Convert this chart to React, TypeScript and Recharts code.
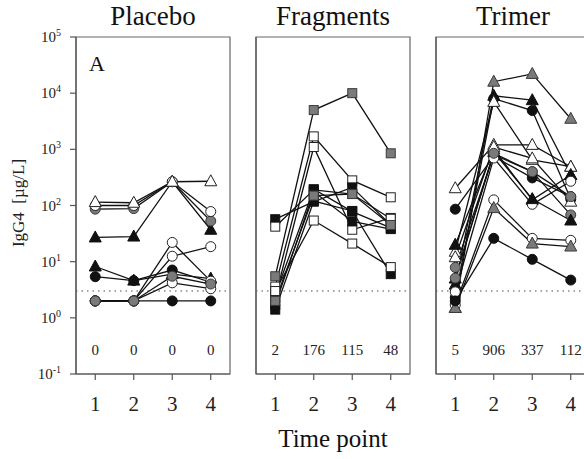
import React from 'react';
import {
  LineChart,
  Line,
  XAxis,
  YAxis,
  ReferenceLine,
  ReferenceArea,
  ReferenceDot,
  Label,
} from 'recharts';

const timePoints = [1, 2, 3, 4];
const xTicks = [1, 2, 3, 4];
const yTicks = [0.1, 1, 10, 100, 1000, 10000, 100000];
const thresholdValue = 3;
const medianLabelLevel = 0.27;
const panelTitles = ['Placebo', 'Fragments', 'Trimer'];

const placeboValues = [
  [27, 28, 265, 37],
  [86, 88, 265, 53],
  [100, 100, 265, 78],
  [115, 112, 265, 270],
  [8.2, 4.6, 6, 5.0],
  [5.4, 4.6, 7.1, 4.3],
  [2, 2, 22, 4.5],
  [2, 2, 12.5, 18.5],
  [2, 2, 4.2, 3.3],
  [2, 2, 2, 2],
  [2, 2, 5.5, 4.0],
];
const placeboShapes = ['triangle', 'circle', 'circle', 'triangle', 'triangle', 'circle', 'circle', 'circle', 'circle', 'circle', 'circle'];
const placeboFills = ['black', 'gray', 'white', 'white', 'black', 'black', 'white', 'white', 'white', 'black', 'gray'];
const placeboMedians = ['0', '0', '0', '0'];

const fragmentValues = [
  [5.5, 5000, 10000, 850],
  [3.6, 1700, 280, 140],
  [2.3, 1100, 37, 60],
  [57, 117, 210, 45],
  [42, 190, 160, 58],
  [2.6, 195, 78, 40],
  [1.7, 175, 52, 38],
  [1.4, 120, 80, 6],
  [3.0, 54, 21, 8],
  [2.0, 150, 160, 45],
];
const fragmentShapes = ['square', 'square', 'square', 'square', 'square', 'square', 'square', 'square', 'square', 'square'];
const fragmentFills = ['gray', 'white', 'white', 'black', 'white', 'black', 'black', 'black', 'white', 'gray'];
const fragmentMedians = ['2', '176', '115', '48'];

const trimerValues = [
  [1.5, 16000, 22000, 3500],
  [3.9, 9000, 7500, 350],
  [2.3, 8000, 4900, 130],
  [15, 7000, 650, 490],
  [203, 1200, 1200, 490],
  [20, 1000, 126, 350],
  [86, 750, 310, 144],
  [7.9, 800, 400, 68],
  [2.9, 700, 105, 270],
  [5, 900, 130, 54],
  [1.7, 126, 26, 24],
  [1.5, 90, 21, 18.6],
  [2.0, 26, 11, 4.7],
  [12, 1100, 690, 117],
  [5.1, 850, 400, 144],
];
const trimerShapes = ['triangle', 'triangle', 'circle', 'triangle', 'triangle', 'triangle', 'circle', 'circle', 'circle', 'triangle', 'circle', 'triangle', 'circle', 'triangle', 'circle'];
const trimerFills = ['gray', 'black', 'black', 'white', 'white', 'black', 'black', 'gray', 'white', 'black', 'white', 'gray', 'black', 'white', 'gray'];
const trimerMedians = ['5', '906', '337', '112'];

const FONT = "'Liberation Serif', 'Times New Roman', serif";
const FILLS: Record<string, string> = { black: '#111', gray: '#7a7a7a', white: '#fff' };
const STROKES: Record<string, string> = { black: '#111', gray: '#3a3a3a', white: '#222' };

function buildRows(values: number[][]) {
  return timePoints.map((t, i) => {
    const row: Record<string, number> = { t };
    values.forEach((v, j) => {
      row['s' + j] = v[i];
    });
    return row;
  });
}

function Marker(props: any) {
  const { cx, cy, shape, fill } = props;
  if (cx == null || cy == null || isNaN(cx) || isNaN(cy)) return <g />;
  const f = FILLS[fill];
  const s = STROKES[fill];
  if (shape === 'circle') {
    return <circle cx={cx} cy={cy} r={5} fill={f} stroke={s} strokeWidth={1} />;
  }
  if (shape === 'square') {
    return <rect x={cx - 4.5} y={cy - 4.5} width={9} height={9} fill={f} stroke={s} strokeWidth={1} />;
  }
  return (
    <polygon
      points={`${cx},${cy - 6.5} ${cx - 6},${cy + 4.5} ${cx + 6},${cy + 4.5}`}
      fill={f}
      stroke={s}
      strokeWidth={1}
    />
  );
}

function PowerTick(props: any) {
  const { x, y, payload } = props;
  const exp = Math.round(Math.log10(payload.value));
  return (
    <text x={x - 7} y={y + 5} textAnchor="end" fontFamily={FONT} fontSize={15} fill="#222">
      <tspan>10</tspan>
      <tspan dy={-6} fontSize={10}>{String(exp)}</tspan>
    </text>
  );
}

function Panel(props: {
  left: number;
  yAxisWidth: number;
  values: number[][];
  shapes: string[];
  fills: string[];
  medians: string[];
  showYLabels: boolean;
}) {
  const { left, yAxisWidth, values, shapes, fills, medians, showYLabels } = props;
  const rows = buildRows(values);
  return (
    <div style={{ position: 'absolute', left, top: 0 }}>
      <LineChart
        width={yAxisWidth + 156}
        height={459}
        data={rows}
        margin={{ top: 37, right: 2, bottom: 0, left: 0 }}
      >
        <ReferenceArea
          x1={0.5}
          x2={4.5}
          y1={0.1}
          y2={100000}
          fill="none"
          stroke="#666"
          strokeWidth={1.2}
          ifOverflow="visible"
        />
        <XAxis
          dataKey="t"
          type="number"
          domain={[0.5, 4.5]}
          ticks={xTicks}
          height={85}
          tickSize={6}
          tickMargin={16}
          stroke="#555"
          strokeWidth={1.2}
          tick={{ fontSize: 21, fill: '#222', fontFamily: FONT }}
        />
        <YAxis
          type="number"
          scale="log"
          domain={[0.1, 100000]}
          ticks={yTicks}
          width={yAxisWidth}
          tickSize={6}
          allowDataOverflow
          stroke="#555"
          strokeWidth={1.2}
          tick={showYLabels ? <PowerTick /> : false}
        />
        <ReferenceLine
          y={thresholdValue}
          stroke="#888"
          strokeDasharray="1.5 4"
          strokeWidth={1.5}
          ifOverflow="visible"
        />
        {values.map((_, j) => (
          <Line
            key={'s' + j}
            dataKey={'s' + j}
            stroke="#111"
            strokeWidth={1.3}
            isAnimationActive={false}
            dot={(p: any) => (
              <Marker key={`d${j}-${p.index}`} cx={p.cx} cy={p.cy} shape={shapes[j]} fill={fills[j]} />
            )}
            activeDot={false}
          />
        ))}
        {medians.map((m, i) => (
          <ReferenceDot
            key={'m' + i}
            x={timePoints[i]}
            y={medianLabelLevel}
            r={0}
            fill="none"
            stroke="none"
          >
            <Label value={m} position="center" fontSize={15} fill="#222" fontFamily={FONT} />
          </ReferenceDot>
        ))}
      </LineChart>
    </div>
  );
}

export default function App() {
  return (
    <div
      style={{
        position: 'absolute',
        left: 0,
        top: 0,
        width: 584,
        height: 459,
        overflow: 'hidden',
        background: '#fff',
      }}
    >
      <Panel left={0} yAxisWidth={76} values={placeboValues} shapes={placeboShapes} fills={placeboFills} medians={placeboMedians} showYLabels />
      <Panel left={230} yAxisWidth={26} values={fragmentValues} shapes={fragmentShapes} fills={fragmentFills} medians={fragmentMedians} showYLabels={false} />
      <Panel left={410} yAxisWidth={26} values={trimerValues} shapes={trimerShapes} fills={trimerFills} medians={trimerMedians} showYLabels={false} />
      <svg
        width={584}
        height={459}
        style={{ position: 'absolute', left: 0, top: 0, pointerEvents: 'none' }}
      >
        <text x={153} y={25} textAnchor="middle" fontFamily={FONT} fontSize={27} fill="#111">{panelTitles[0]}</text>
        <text x={333} y={25} textAnchor="middle" fontFamily={FONT} fontSize={27} fill="#111">{panelTitles[1]}</text>
        <text x={513} y={25} textAnchor="middle" fontFamily={FONT} fontSize={27} fill="#111">{panelTitles[2]}</text>
        <text x={89} y={71} fontFamily={FONT} fontSize={22} fill="#111">A</text>
        <text transform="translate(24,203) rotate(-90)" textAnchor="middle" fontFamily={FONT} fontSize={17} fill="#222" style={{ whiteSpace: 'pre' }}>
          {'IgG4  [µg/L]'}
        </text>
        <text x={333} y={447} textAnchor="middle" fontFamily={FONT} fontSize={25} fill="#111">Time point</text>
      </svg>
    </div>
  );
}
